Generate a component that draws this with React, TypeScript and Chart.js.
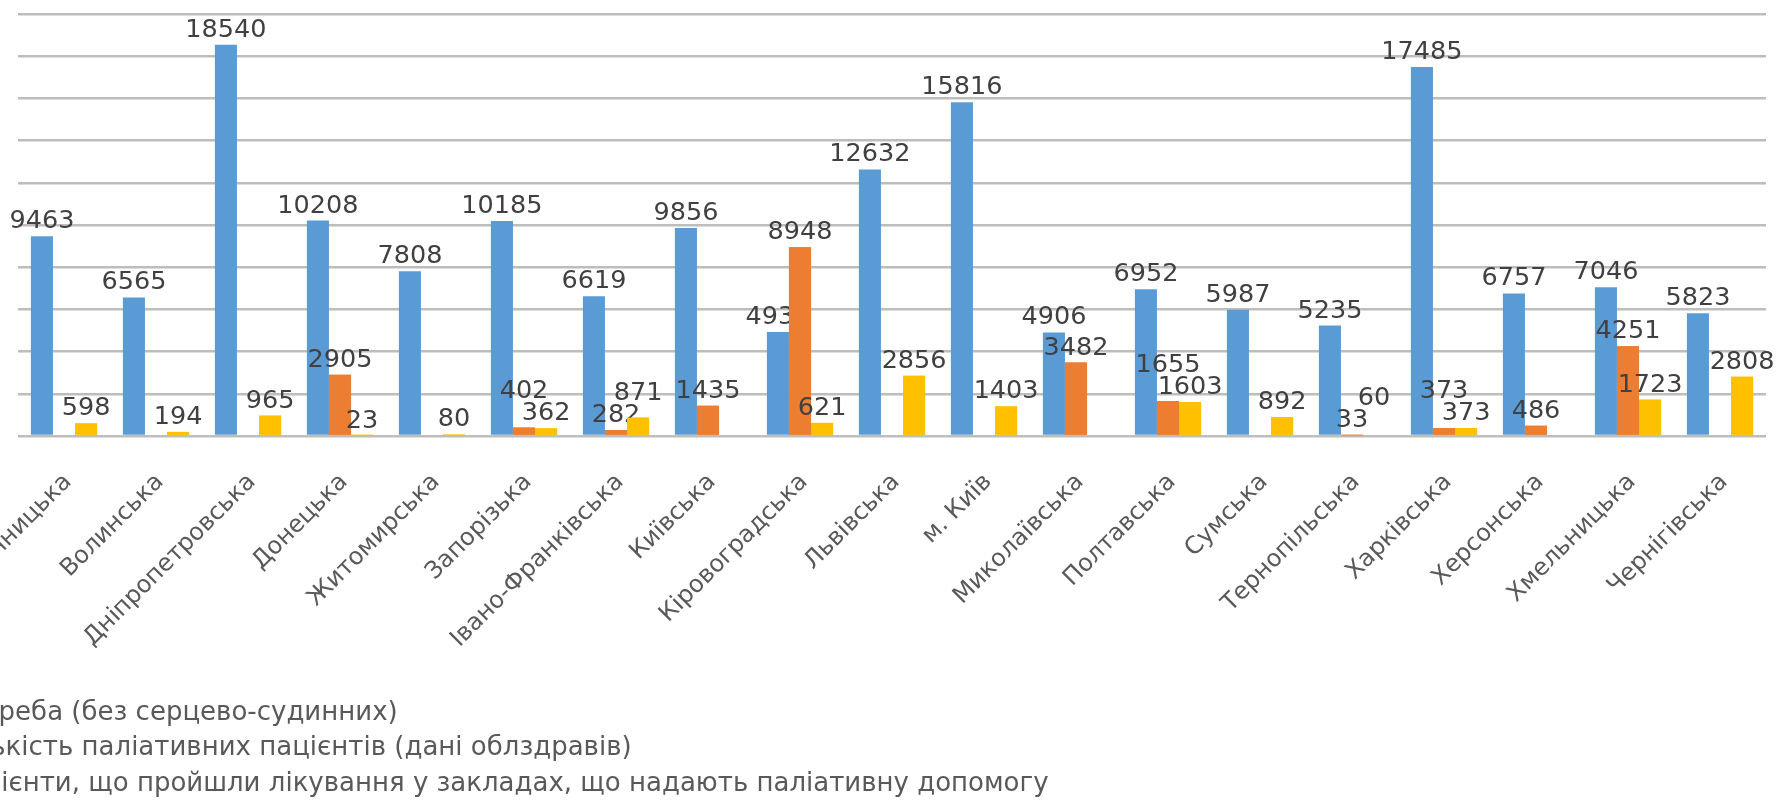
import React, { useEffect, useRef } from "react";
import { Chart, registerables } from "chart.js";

Chart.register(...registerables);

const categories = [
  "Вінницька",
  "Волинська",
  "Дніпропетровська",
  "Донецька",
  "Житомирська",
  "Запорізька",
  "Івано-Франківська",
  "Київська",
  "Кіровоградська",
  "Львівська",
  "м. Київ",
  "Миколаївська",
  "Полтавська",
  "Сумська",
  "Тернопільська",
  "Харківська",
  "Херсонська",
  "Хмельницька",
  "Чернігівська",
];

const needValues = [
  9463, 6565, 18540, 10208, 7808, 10185, 6619, 9856, 4931, 12632, 15816, 4906,
  6952, 5987, 5235, 17485, 6757, 7046, 5823,
];
const palliativeValues = [
  null, null, null, 2905, null, 402, 282, 1435, 8948, null, null, 3482, 1655,
  null, 33, 373, 486, 4251, null,
];
const treatedValues = [
  598, 194, 965, 23, 80, 362, 871, null, 621, 2856, 1403, null, 1603, 892, 60,
  373, null, 1723, 2808,
];

const seriesNames = [
  "Потреба (без серцево-судинних)",
  "Кількість паліативних пацієнтів (дані облздравів)",
  "Пацієнти, що пройшли лікування у закладах, що надають паліативну допомогу",
];
const seriesColors = ["#5B9BD5", "#ED7D31", "#FFC000"];

const yMin = 0;
const yMax = 20000;
const yStep = 2000;

const FONT_FAMILY = "'DejaVu Sans', sans-serif";
const OFFSET = 140; // part of the canvas hidden left of the window
const CANVAS_W = 1779 + OFFSET;
const CANVAS_H = 806;
const LABEL_FONT = `25.5px ${FONT_FAMILY}`;
const LEGEND_FONT = `26px ${FONT_FAMILY}`;

const valueLabelsPlugin = {
  id: "valueLabels",
  afterDatasetsDraw(chart: any) {
    const ctx = chart.ctx;
    const datasets = chart.data.datasets;
    const n = chart.data.labels.length;
    const gap = 8;
    const h = 19;
    ctx.save();
    ctx.font = LABEL_FONT;
    const placed: any[][] = datasets.map(() => []);
    for (let i = 0; i < n; i++) {
      const items: any[] = [];
      datasets.forEach((ds: any, di: number) => {
        const v = ds.data[i];
        if (v === null || v === undefined) return;
        const el = chart.getDatasetMeta(di).data[i];
        const w = ctx.measureText(String(v)).width;
        items.push({ v, di, x: el.x, y: el.y - gap, w });
      });
      items.sort((a, b) => a.v - b.v || b.di - a.di);
      const done: any[] = [];
      for (const it of items) {
        let moved = true;
        let guard = 0;
        while (moved && guard < 20) {
          moved = false;
          guard++;
          for (const p of done) {
            const hOver = Math.abs(it.x - p.x) < (it.w + p.w) / 2;
            const vOver = it.y > p.y - h && it.y - h < p.y;
            if (hOver && vOver) {
              it.y = p.y - h - 3;
              moved = true;
            }
          }
        }
        done.push(it);
        placed[it.di].push(it);
      }
    }
    for (let di = 0; di < datasets.length; di++) {
      if (di > 0) {
        const meta = chart.getDatasetMeta(di);
        meta.data.forEach((el: any, i: number) => {
          const v = datasets[di].data[i];
          if (v === null || v === undefined) return;
          ctx.save();
          el.draw(ctx);
          ctx.restore();
        });
      }
      ctx.font = LABEL_FONT;
      ctx.fillStyle = "#404040";
      ctx.textAlign = "center";
      ctx.textBaseline = "alphabetic";
      for (const it of placed[di]) {
        ctx.fillText(String(it.v), it.x, it.y);
      }
    }
    ctx.restore();
  },
};

const stackedLegendPlugin = {
  id: "stackedLegend",
  afterDraw(chart: any) {
    const ctx = chart.ctx;
    const textX = chart.chartArea.left - 70;
    const firstY = chart.height - 93;
    const lineStep = 35.5;
    ctx.save();
    ctx.font = LEGEND_FONT;
    ctx.textBaseline = "middle";
    ctx.textAlign = "left";
    chart.data.datasets.forEach((ds: any, i: number) => {
      const y = firstY + i * lineStep;
      ctx.fillStyle = ds.backgroundColor;
      ctx.fillRect(textX - 26, y - 7, 14, 14);
      ctx.fillStyle = "#595959";
      ctx.fillText(ds.label, textX, y);
    });
    ctx.restore();
  },
};

export default function App() {
  const canvasRef = useRef<HTMLCanvasElement | null>(null);

  useEffect(() => {
    document.body.style.margin = "0";
    const canvas = canvasRef.current;
    if (!canvas) return;
    const seriesValues = [needValues, palliativeValues, treatedValues];
    const chart = new Chart(canvas, {
      type: "bar",
      data: {
        labels: categories,
        datasets: seriesValues.map((vals, i) => ({
          label: seriesNames[i],
          data: vals as any,
          backgroundColor: seriesColors[i],
          borderWidth: 0,
          categoryPercentage: 0.72,
          barPercentage: 1.0,
        })),
      },
      options: {
        responsive: false,
        animation: false,
        devicePixelRatio: 1,
        layout: { padding: { left: OFFSET + 18, right: 13, top: 14, bottom: 0 } },
        plugins: {
          legend: { display: false },
          tooltip: { enabled: false },
          title: { display: false },
        },
        scales: {
          x: {
            grid: { display: false },
            border: { display: false },
            ticks: {
              autoSkip: false,
              minRotation: 45,
              maxRotation: 45,
              padding: 24,
              labelOffset: 4,
              color: "#595959",
              font: { family: FONT_FAMILY, size: 24 },
            },
            afterFit: (s: any) => {
              s.height = 370;
            },
          },
          y: {
            min: yMin,
            max: yMax,
            ticks: { stepSize: yStep, display: false },
            grid: { color: "#bdbdbd", lineWidth: 2.5, drawTicks: false },
            border: { display: false },
            afterFit: (s: any) => {
              s.width = 0;
            },
          },
        },
      } as any,
      plugins: [valueLabelsPlugin, stackedLegendPlugin],
    });
    return () => chart.destroy();
  }, []);

  return (
    <div
      style={{
        position: "fixed",
        left: 0,
        top: 0,
        width: "1779px",
        height: "806px",
        overflow: "hidden",
        background: "#ffffff",
      }}
    >
      <canvas
        ref={canvasRef}
        width={CANVAS_W}
        height={CANVAS_H}
        style={{
          position: "absolute",
          left: -OFFSET,
          top: 0,
          width: CANVAS_W + "px",
          height: CANVAS_H + "px",
        }}
      />
    </div>
  );
}
